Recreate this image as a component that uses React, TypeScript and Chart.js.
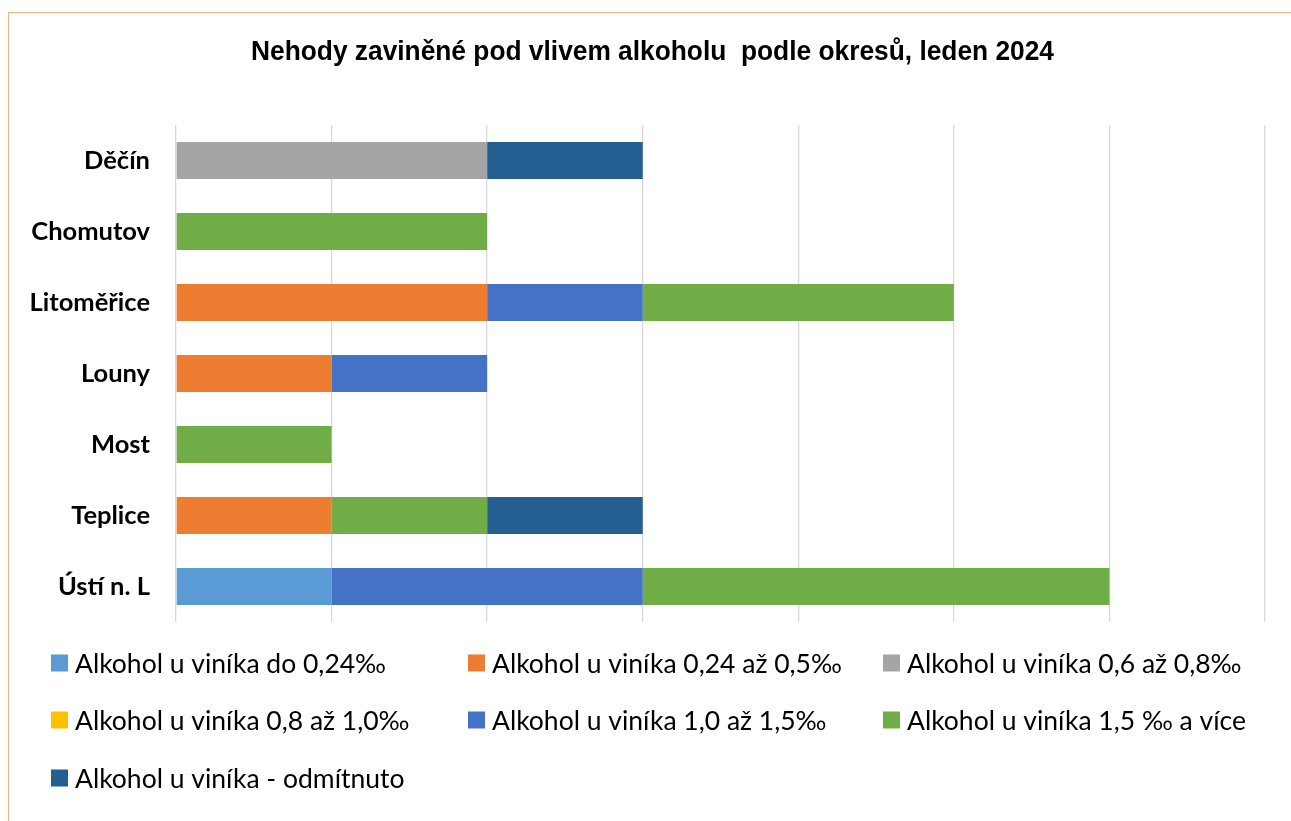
import React, { useEffect, useRef } from "react";
import { Chart, registerables } from "chart.js";

Chart.register(...registerables);

const categories = ["Děčín", "Chomutov", "Litoměřice", "Louny", "Most", "Teplice", "Ústí n. L"];

const seriesNames = [
  "Alkohol u viníka do 0,24‰",
  "Alkohol u viníka 0,24 až 0,5‰",
  "Alkohol u viníka 0,6 až 0,8‰",
  "Alkohol u viníka 0,8 až 1,0‰",
  "Alkohol u viníka 1,0 až 1,5‰",
  "Alkohol u viníka 1,5 ‰ a více",
  "Alkohol u viníka - odmítnuto",
];

const do024 = [null, null, null, null, null, null, 1];
const od024do05 = [null, null, 2, 1, null, 1, null];
const od06do08 = [2, null, null, null, null, null, null];
const od08do10 = [null, null, null, null, null, null, null];
const od10do15 = [null, null, 1, 1, null, null, 2];
const od15vice = [null, 2, 2, null, 1, 1, 3];
const odmitnuto = [1, null, null, null, null, 1, null];

const seriesValues = [do024, od024do05, od06do08, od08do10, od10do15, od15vice, odmitnuto];
const colors = ["#5B9BD5", "#ED7D31", "#A5A5A5", "#FFC000", "#4472C4", "#70AD47", "#255E91"];

const titleText = "Nehody zaviněné pod vlivem alkoholu  podle okresů, leden 2024";

// Narrow bold title (Arial Narrow look) drawn as canvas text
const narrowTitle = {
  id: "narrowTitle",
  afterDraw(chart: any) {
    const ctx = chart.ctx;
    ctx.save();
    ctx.font = "bold 28px 'Liberation Sans', Arial, sans-serif";
    ctx.fillStyle = "#000000";
    ctx.textBaseline = "alphabetic";
    ctx.textAlign = "center";
    const w = ctx.measureText(titleText).width;
    const sx = 803 / w;
    ctx.translate(643.5, 47);
    ctx.scale(sx, 1);
    ctx.fillText(titleText, 0, 0);
    ctx.restore();
  },
};

const gridLegend = {
  id: "gridLegend",
  afterDraw(chart: any) {
    const ctx = chart.ctx;
    const colX = [42, 459, 874];
    const rowY = [650, 707, 765];
    ctx.save();
    ctx.font = "26.5px Lato, 'Noto Sans', sans-serif";
    ctx.textBaseline = "middle";
    ctx.textAlign = "left";
    chart.data.datasets.forEach((ds: any, i: number) => {
      const c = i % 3;
      const r = Math.floor(i / 3);
      const x = colX[c];
      const y = rowY[r];
      ctx.fillStyle = ds.backgroundColor;
      ctx.fillRect(x, y - 8.5, 17, 17);
      ctx.fillStyle = "#000000";
      ctx.fillText(ds.label, x + 24, y + 1);
    });
    ctx.restore();
  },
};

export default function App() {
  const ref = useRef<HTMLCanvasElement>(null);
  useEffect(() => {
    if (!ref.current) return;
    const chart = new Chart(ref.current, {
      type: "bar",
      data: {
        labels: categories,
        datasets: seriesNames.map((name, i) => ({
          label: name,
          data: seriesValues[i],
          backgroundColor: colors[i],
          borderWidth: 0,
          categoryPercentage: 1,
          barPercentage: 0.52,
        })),
      },
      options: {
        indexAxis: "y",
        responsive: false,
        animation: false,
        layout: { padding: { left: 0, right: 26, top: 112, bottom: 199 } },
        plugins: {
          legend: { display: false },
          tooltip: { enabled: false },
          title: { display: false },
        },
        scales: {
          x: {
            stacked: true,
            min: 0,
            max: 7,
            ticks: { display: false, stepSize: 1 },
            grid: { color: "#D9D9D9", lineWidth: 1.3, drawTicks: false },
            border: { display: false },
            afterFit(scale: any) {
              scale.height = 0;
            },
          },
          y: {
            stacked: true,
            grid: { display: false, drawTicks: false },
            border: { display: false },
            ticks: {
              color: "#000000",
              padding: 26,
              font: { family: "Lato, 'Noto Sans', sans-serif", size: 25.5, weight: "bold" },
            },
            afterFit(scale: any) {
              scale.width = 167;
            },
          },
        },
      },
      plugins: [narrowTitle, gridLegend],
    });
    return () => chart.destroy();
  }, []);
  return (
    <div
      style={{
        position: "absolute",
        left: 8,
        top: 12,
        width: 1283,
        height: 809,
        boxSizing: "border-box",
        borderTop: "1px solid #F4B183",
        borderLeft: "1px solid #F4B183",
        background: "#ffffff",
      }}
    >
      <canvas ref={ref} width={1282} height={808} style={{ display: "block" }} />
    </div>
  );
}
